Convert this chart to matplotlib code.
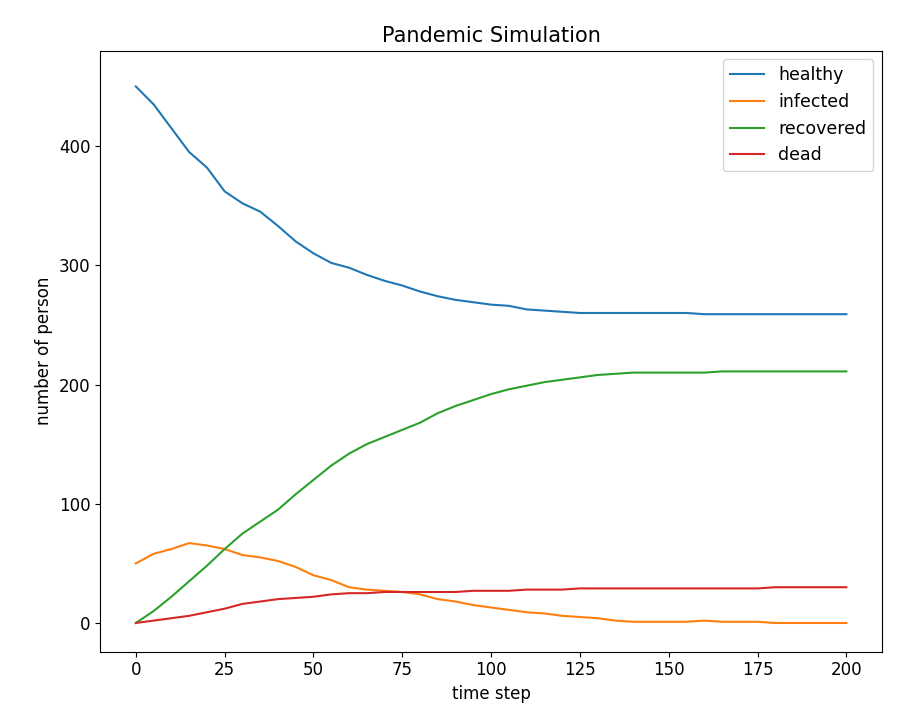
import matplotlib
matplotlib.use("Agg")
import matplotlib.pyplot as plt

# ── data (sampled every 5 time steps) ─────────────────────────────────────────
steps = list(range(0, 201, 5))
healthy = [450, 435, 415, 395, 382, 362, 352, 345, 333, 320, 310, 302, 298, 292,
           287, 283, 278, 274, 271, 269, 267, 266, 263, 262, 261, 260, 260, 260,
           260, 260, 260, 260, 259, 259, 259, 259, 259, 259, 259, 259, 259]
infected = [50, 58, 62, 67, 65, 62, 57, 55, 52, 47, 40, 36, 30, 28, 27, 26, 24,
            20, 18, 15, 13, 11, 9, 8, 6, 5, 4, 2, 1, 1, 1, 1, 2, 1, 1, 1, 0, 0,
            0, 0, 0]
recovered = [0, 10, 22, 35, 48, 62, 75, 85, 95, 108, 120, 132, 142, 150, 156,
             162, 168, 176, 182, 187, 192, 196, 199, 202, 204, 206, 208, 209,
             210, 210, 210, 210, 210, 211, 211, 211, 211, 211, 211, 211, 211]
dead = [0, 2, 4, 6, 9, 12, 16, 18, 20, 21, 22, 24, 25, 25, 26, 26, 26, 26, 26,
        27, 27, 27, 28, 28, 28, 29, 29, 29, 29, 29, 29, 29, 29, 29, 29, 29, 30,
        30, 30, 30, 30]

fig = plt.figure(figsize=(9.12, 7.24), dpi=100)
ax = fig.add_axes([0.11, 0.10, 0.857, 0.83])
ax.plot(steps, healthy, label="healthy")
ax.plot(steps, infected, label="infected")
ax.plot(steps, recovered, label="recovered")
ax.plot(steps, dead, label="dead")
ax.set_ylim(-24, 480)
ax.set_title("Pandemic Simulation", fontsize=15)
ax.set_xlabel("time step", fontsize=12)
ax.set_ylabel("number of person", fontsize=12)
ax.tick_params(labelsize=12)
ax.legend(fontsize=12.5)
fig.savefig("out.png", dpi=100)
